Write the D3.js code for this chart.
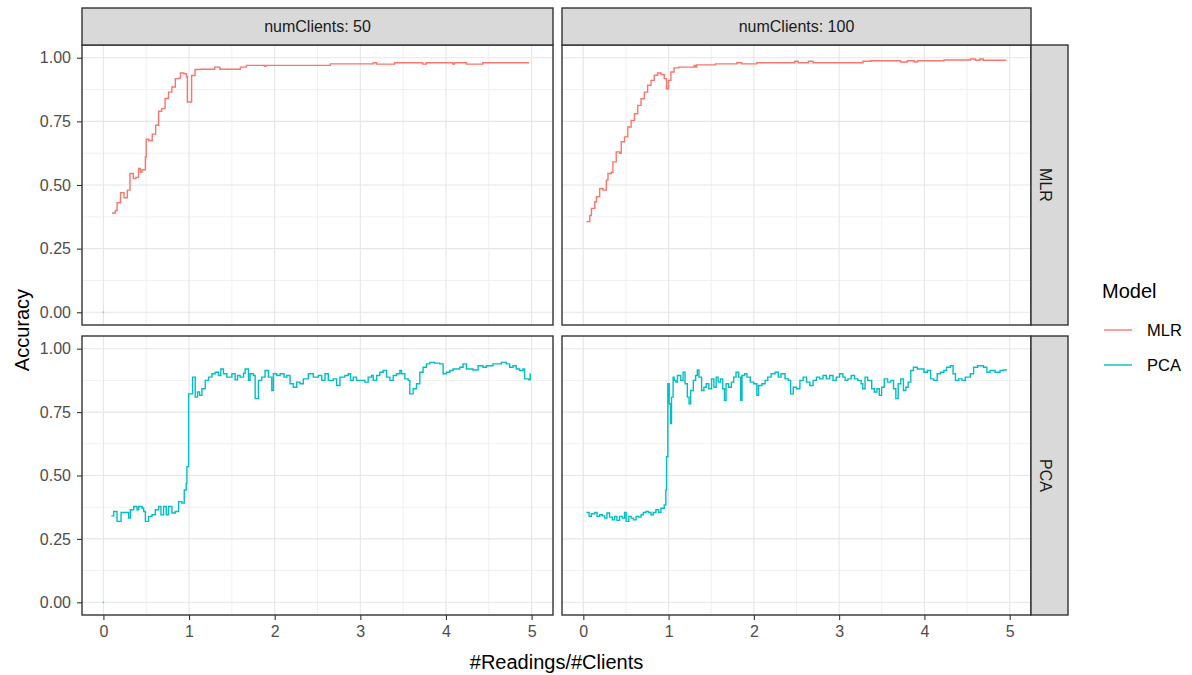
<!DOCTYPE html>
<html>
<head>
<meta charset="utf-8">
<script src="https://cdn.jsdelivr.net/npm/d3@7"></script>
<style>
  html, body { margin: 0; padding: 0; background: #ffffff; }
  svg { display: block; font-family: "Liberation Sans", Arial, sans-serif; }
</style>
</head>
<body>
<svg id="chart" width="1192" height="675"></svg>
<script>
// Facet levels
const clients = [50, 100];
const models = ["MLR", "PCA"];
const modelColors = ["#F8766D", "#00BFC4"];

// Axis ticks
const xTicks = [0, 1, 2, 3, 4, 5];
const xMinor = [0.5, 1.5, 2.5, 3.5, 4.5];
const yTicks = [0, 0.25, 0.5, 0.75, 1];
const yMinor = [0.125, 0.375, 0.625, 0.875];

// Accuracy vs readings per client: [readings/clients, accuracy]
const mlr50 = [
  [0.10,0.39],[0.14,0.40],[0.16,0.43],[0.20,0.47],[0.24,0.45],[0.28,0.48],[0.31,0.545],
  [0.35,0.525],[0.38,0.53],[0.41,0.565],[0.43,0.55],[0.45,0.56],[0.49,0.61],[0.50,0.68],
  [0.53,0.675],[0.57,0.70],[0.61,0.735],[0.645,0.79],[0.68,0.80],[0.72,0.84],[0.76,0.865],
  [0.80,0.885],[0.84,0.918],[0.88,0.92],[0.90,0.94],[0.94,0.937],[0.97,0.925],[0.98,0.826],
  [1.03,0.93],[1.07,0.954],[1.13,0.955],[1.30,0.963],[1.36,0.955],[1.60,0.963],[1.67,0.97],
  [1.88,0.966],[1.90,0.97],[2.65,0.976],[3.11,0.976],[3.15,0.98],[3.19,0.975],[3.40,0.98],
  [3.73,0.975],[3.77,0.98],[4.08,0.975],[4.10,0.98],[4.24,0.975],[4.43,0.98],[4.97,0.98]
];
const mlr100 = [
  [0.037,0.356],[0.076,0.38],[0.095,0.408],[0.134,0.434],[0.154,0.454],[0.192,0.486],
  [0.23,0.48],[0.27,0.519],[0.289,0.545],[0.328,0.55],[0.347,0.591],[0.386,0.63],
  [0.425,0.625],[0.445,0.67],[0.483,0.689],[0.522,0.728],[0.561,0.754],[0.60,0.78],
  [0.638,0.813],[0.677,0.839],[0.716,0.865],[0.754,0.892],[0.794,0.911],[0.832,0.931],
  [0.871,0.94],[0.91,0.934],[0.949,0.918],[0.976,0.878],[0.999,0.911],[1.027,0.944],
  [1.065,0.96],[1.12,0.963],[1.30,0.97],[1.318,0.963],[1.33,0.972],[1.55,0.976],
  [1.80,0.98],[1.86,0.976],[2.035,0.98],[2.48,0.986],[2.52,0.98],[2.64,0.986],[2.695,0.98],
  [3.28,0.986],[3.37,0.988],[3.72,0.983],[3.80,0.988],[3.88,0.983],[3.92,0.988],
  [4.23,0.991],[4.54,0.995],[4.60,0.99],[4.65,0.995],[4.69,0.99],[4.96,0.99]
];
const pca50 = [
  [0.093,0.341],[0.12,0.358],[0.159,0.319],[0.206,0.354],[0.295,0.332],[0.315,0.365],
  [0.354,0.378],[0.392,0.365],[0.412,0.378],[0.451,0.371],[0.47,0.358],[0.49,0.319],
  [0.528,0.339],[0.567,0.345],[0.606,0.365],[0.645,0.378],[0.672,0.345],[0.703,0.378],
  [0.734,0.345],[0.761,0.378],[0.80,0.352],[0.839,0.358],[0.878,0.397],[0.917,0.391],
  [0.944,0.443],[0.967,0.469],[0.975,0.535],[0.995,0.822],[1.026,0.822],[1.041,0.888],
  [1.072,0.809],[1.099,0.829],[1.123,0.816],[1.15,0.842],[1.189,0.875],[1.228,0.888],
  [1.267,0.901],[1.305,0.907],[1.344,0.894],[1.371,0.92],[1.402,0.901],[1.441,0.888],
  [1.50,0.901],[1.538,0.877],[1.566,0.894],[1.597,0.888],[1.636,0.903],[1.655,0.92],
  [1.694,0.875],[1.713,0.901],[1.752,0.894],[1.772,0.803],[1.81,0.875],[1.849,0.888],
  [1.888,0.914],[1.927,0.888],[1.966,0.835],[1.985,0.901],[2.024,0.894],[2.063,0.901],
  [2.11,0.888],[2.141,0.894],[2.179,0.862],[2.218,0.848],[2.257,0.868],[2.296,0.862],
  [2.335,0.881],[2.393,0.901],[2.451,0.888],[2.51,0.894],[2.549,0.875],[2.587,0.901],
  [2.626,0.875],[2.685,0.881],[2.723,0.855],[2.762,0.888],[2.82,0.894],[2.859,0.901],
  [2.887,0.875],[2.918,0.888],[2.956,0.875],[3.054,0.868],[3.092,0.888],[3.131,0.894],
  [3.151,0.875],[3.19,0.894],[3.228,0.907],[3.267,0.914],[3.306,0.888],[3.345,0.875],
  [3.384,0.894],[3.423,0.901],[3.462,0.914],[3.481,0.901],[3.52,0.881],[3.559,0.875],
  [3.578,0.822],[3.617,0.842],[3.656,0.862],[3.695,0.907],[3.733,0.927],[3.772,0.94],
  [3.811,0.946],[3.869,0.943],[3.928,0.94],[3.967,0.901],[4.005,0.907],[4.044,0.914],
  [4.083,0.92],[4.161,0.927],[4.20,0.94],[4.239,0.92],[4.316,0.916],[4.375,0.933],
  [4.433,0.927],[4.472,0.933],[4.549,0.94],[4.647,0.946],[4.705,0.94],[4.744,0.927],
  [4.782,0.933],[4.821,0.92],[4.86,0.914],[4.899,0.92],[4.918,0.881],[4.969,0.877],
  [4.984,0.903]
];
const pca100 = [
  [0.037,0.354],[0.068,0.339],[0.095,0.349],[0.134,0.354],[0.161,0.339],[0.192,0.345],
  [0.223,0.341],[0.25,0.332],[0.277,0.352],[0.308,0.336],[0.34,0.325],[0.367,0.339],
  [0.394,0.323],[0.425,0.339],[0.456,0.332],[0.483,0.354],[0.502,0.319],[0.534,0.339],
  [0.561,0.332],[0.588,0.325],[0.619,0.339],[0.65,0.336],[0.677,0.345],[0.704,0.354],
  [0.735,0.358],[0.766,0.354],[0.794,0.345],[0.821,0.354],[0.851,0.365],[0.883,0.354],
  [0.91,0.371],[0.949,0.384],[0.968,0.443],[0.976,0.574],[0.991,0.862],[1.007,0.783],
  [1.022,0.705],[1.034,0.809],[1.053,0.888],[1.065,0.875],[1.084,0.868],[1.104,0.894],
  [1.143,0.875],[1.17,0.907],[1.193,0.862],[1.22,0.809],[1.24,0.783],[1.259,0.835],
  [1.29,0.875],[1.317,0.894],[1.337,0.916],[1.356,0.888],[1.387,0.835],[1.414,0.848],
  [1.441,0.862],[1.472,0.842],[1.504,0.881],[1.531,0.848],[1.558,0.888],[1.581,0.868],
  [1.608,0.881],[1.635,0.842],[1.655,0.796],[1.674,0.862],[1.705,0.848],[1.736,0.868],
  [1.764,0.888],[1.791,0.907],[1.822,0.888],[1.845,0.796],[1.861,0.894],[1.892,0.901],
  [1.919,0.888],[1.958,0.868],[1.997,0.862],[2.035,0.816],[2.055,0.855],[2.094,0.862],
  [2.132,0.875],[2.163,0.888],[2.202,0.901],[2.249,0.907],[2.287,0.888],[2.319,0.901],
  [2.365,0.881],[2.404,0.875],[2.431,0.822],[2.462,0.848],[2.501,0.842],[2.54,0.875],
  [2.578,0.888],[2.617,0.868],[2.656,0.855],[2.695,0.875],[2.734,0.888],[2.772,0.881],
  [2.811,0.894],[2.85,0.881],[2.889,0.894],[2.928,0.875],[2.966,0.888],[3.005,0.901],
  [3.044,0.888],[3.071,0.875],[3.102,0.881],[3.141,0.894],[3.18,0.881],[3.219,0.875],
  [3.258,0.862],[3.277,0.842],[3.304,0.888],[3.335,0.875],[3.382,0.842],[3.413,0.829],
  [3.444,0.842],[3.471,0.816],[3.498,0.848],[3.529,0.881],[3.568,0.868],[3.607,0.875],
  [3.638,0.842],[3.665,0.803],[3.692,0.862],[3.723,0.881],[3.754,0.835],[3.782,0.848],
  [3.809,0.868],[3.84,0.914],[3.871,0.927],[3.917,0.92],[3.956,0.92],[3.995,0.907],
  [4.034,0.914],[4.073,0.881],[4.111,0.875],[4.15,0.901],[4.189,0.907],[4.228,0.914],
  [4.259,0.927],[4.305,0.933],[4.336,0.901],[4.364,0.875],[4.402,0.881],[4.441,0.875],
  [4.48,0.888],[4.538,0.901],[4.577,0.927],[4.624,0.933],[4.693,0.927],[4.732,0.907],
  [4.771,0.914],[4.829,0.907],[4.887,0.914],[4.926,0.916],[4.957,0.92]
];
// Initial (0, 0) readings, recorded before any data arrived
const originPoints = [[0, 0]];

// series[row][col]
const series = [[mlr50, mlr100], [pca50, pca100]];
const originShown = [[true, false], [true, false]];

// Layout
const colX = [[82, 553], [562, 1031]];
const rowY = [[45, 325], [336, 615]];
const topStrip = [8, 45];
const sideStrip = [1031, 1068];

const svg = d3.select("#chart");

const lineGen = (xs, ys) => d3.line()
  .x(d => xs(d[0]))
  .y(d => ys(d[1]))
  .curve(d3.curveStepAfter);

// Panels
rowY.forEach((ry, r) => {
  colX.forEach((cx, c) => {
    const xs = d3.scaleLinear().domain([-0.25, 5.25]).range(cx);
    const ys = d3.scaleLinear().domain([-0.05, 1.05]).range([ry[1], ry[0]]);
    const g = svg.append("g");

    g.append("rect").attr("x", cx[0]).attr("y", ry[0])
      .attr("width", cx[1] - cx[0]).attr("height", ry[1] - ry[0])
      .attr("fill", "#ffffff");

    // minor grid
    g.selectAll(".xmin").data(xMinor).join("line")
      .attr("x1", d => xs(d)).attr("x2", d => xs(d))
      .attr("y1", ry[0]).attr("y2", ry[1])
      .attr("stroke", "#f0f0f0").attr("stroke-width", 1);
    g.selectAll(".ymin").data(yMinor).join("line")
      .attr("y1", d => ys(d)).attr("y2", d => ys(d))
      .attr("x1", cx[0]).attr("x2", cx[1])
      .attr("stroke", "#f0f0f0").attr("stroke-width", 1);
    // major grid
    g.selectAll(".xmaj").data(xTicks).join("line")
      .attr("x1", d => xs(d)).attr("x2", d => xs(d))
      .attr("y1", ry[0]).attr("y2", ry[1])
      .attr("stroke", "#e6e6e6").attr("stroke-width", 1.1);
    g.selectAll(".ymaj").data(yTicks).join("line")
      .attr("y1", d => ys(d)).attr("y2", d => ys(d))
      .attr("x1", cx[0]).attr("x2", cx[1])
      .attr("stroke", "#e6e6e6").attr("stroke-width", 1.1);

    // series line
    g.append("path").datum(series[r][c])
      .attr("d", lineGen(xs, ys))
      .attr("fill", "none")
      .attr("stroke", modelColors[r])
      .attr("stroke-width", 1.4)
      .attr("stroke-linejoin", "miter");

    if (originShown[r][c]) {
      g.selectAll(".origin").data(originPoints).join("circle")
        .attr("cx", d => xs(d[0])).attr("cy", d => ys(d[1]))
        .attr("r", 0.9).attr("fill", modelColors[r]).attr("opacity", 0.6);
    }

    // border
    g.append("rect").attr("x", cx[0]).attr("y", ry[0])
      .attr("width", cx[1] - cx[0]).attr("height", ry[1] - ry[0])
      .attr("fill", "none").attr("stroke", "#333333").attr("stroke-width", 1.4);

    // y axis on left column
    if (c === 0) {
      const yAxis = d3.axisLeft(ys).tickValues(yTicks).tickFormat(d3.format(".2f"))
        .tickSize(5).tickPadding(6);
      const ag = svg.append("g").attr("transform", `translate(${cx[0]},0)`).call(yAxis);
      ag.select(".domain").remove();
      ag.selectAll("line").attr("stroke", "#333333").attr("stroke-width", 1.1);
      ag.selectAll("text").attr("fill", "#4d4d4d").attr("font-size", 16)
        .attr("font-family", "Liberation Sans, Arial, sans-serif");
    }
    // x axis on bottom row
    if (r === 1) {
      const xAxis = d3.axisBottom(xs).tickValues(xTicks).tickFormat(d3.format("d"))
        .tickSize(5).tickPadding(6);
      const ag = svg.append("g").attr("transform", `translate(0,${ry[1]})`).call(xAxis);
      ag.select(".domain").remove();
      ag.selectAll("line").attr("stroke", "#333333").attr("stroke-width", 1.1);
      ag.selectAll("text").attr("fill", "#4d4d4d").attr("font-size", 16)
        .attr("font-family", "Liberation Sans, Arial, sans-serif");
    }
  });
});

// Top strips
colX.forEach((cx, c) => {
  svg.append("rect").attr("x", cx[0]).attr("y", topStrip[0])
    .attr("width", cx[1] - cx[0]).attr("height", topStrip[1] - topStrip[0])
    .attr("fill", "#d9d9d9").attr("stroke", "#333333").attr("stroke-width", 1.4);
  svg.append("text").attr("x", (cx[0] + cx[1]) / 2).attr("y", 32)
    .attr("text-anchor", "middle").attr("font-size", 16).attr("fill", "#1a1a1a")
    .text(`numClients: ${clients[c]}`);
});

// Side strips
rowY.forEach((ry, r) => {
  svg.append("rect").attr("x", sideStrip[0]).attr("y", ry[0])
    .attr("width", sideStrip[1] - sideStrip[0]).attr("height", ry[1] - ry[0])
    .attr("fill", "#d9d9d9").attr("stroke", "#333333").attr("stroke-width", 1.4);
  const cy = (ry[0] + ry[1]) / 2;
  svg.append("text")
    .attr("transform", `translate(${sideStrip[0] + 9},${cy}) rotate(90)`)
    .attr("text-anchor", "middle").attr("font-size", 16).attr("fill", "#1a1a1a")
    .text(models[r]);
});

// Axis titles
svg.append("text").attr("x", (colX[0][0] + colX[1][1]) / 2).attr("y", 669)
  .attr("text-anchor", "middle").attr("font-size", 20).attr("fill", "#000000")
  .text("#Readings/#Clients");
svg.append("text")
  .attr("transform", `translate(29,${(rowY[0][0] + rowY[1][1]) / 2}) rotate(-90)`)
  .attr("text-anchor", "middle").attr("font-size", 20).attr("fill", "#000000")
  .text("Accuracy");

// Legend
const leg = svg.append("g");
leg.append("text").attr("x", 1102).attr("y", 298).attr("font-size", 20)
  .attr("fill", "#000000").text("Model");
models.forEach((m, i) => {
  const y = 330 + i * 35;
  leg.append("line").attr("x1", 1104).attr("x2", 1132).attr("y1", y).attr("y2", y)
    .attr("stroke", modelColors[i]).attr("stroke-width", 1.4);
  leg.append("text").attr("x", 1147).attr("y", y + 6).attr("font-size", 16.5)
    .attr("fill", "#000000").text(m);
});
</script>
</body>
</html>
